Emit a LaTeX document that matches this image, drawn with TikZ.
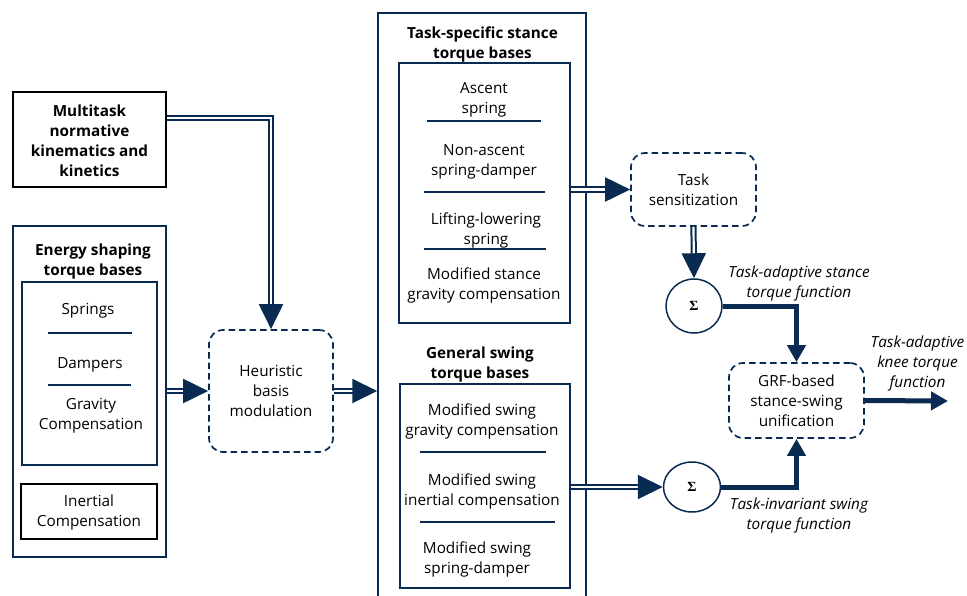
\documentclass[tikz,border=0pt]{standalone}
\usepackage{fontspec}
\setmainfont{Open Sans}
\newfontfamily\sigmafont{Liberation Serif}
\usepackage{xcolor}
\definecolor{Navy}{RGB}{9,43,82}
\usepackage{tikz}
\usetikzlibrary{shapes.geometric}
\usetikzlibrary{arrows.meta}
\newcommand{\Txt}{\fontsize{15.3}{20}\selectfont}
\tikzstyle{NavyBox}=[draw=Navy,line width=1.5pt,inner sep=0pt]
\tikzstyle{BlackBox}=[draw=black,line width=2pt,inner sep=0pt]
\tikzstyle{DashBox}=[draw=Navy,line width=1.7pt,dash pattern=on 6.5pt off 4pt,
rounded corners=14pt,inner sep=0pt,align=center,font=\Txt]
\tikzstyle{Item}=[inner sep=0pt,align=center,font=\Txt]
\tikzstyle{Title}=[inner sep=0pt,align=center,font=\Txt\bfseries]
\tikzstyle{Label}=[inner sep=0pt,align=center,font=\Txt\itshape]
\tikzstyle{Sum}=[ellipse,draw=Navy,line width=1.5pt,inner sep=0pt,
font=\sigmafont\bfseries\fontsize{14}{14}\selectfont]
\tikzstyle{Sep}=[draw=Navy,line width=1.2pt]
\tikzstyle{DoubleArrow}=[draw=Navy,line width=2pt,double=white,
double distance=2.2pt,-{Triangle[length=25pt,width=24pt]}]
\tikzstyle{ThickArrow}=[draw=Navy,line width=5pt,miter limit=10,
-{Triangle[length=17pt,width=18pt]}]

\begin{document}
\begin{tikzpicture}[x=1pt,y=-1pt]
    \useasboundingbox (0,0) rectangle (967,595);
    % left column
    \node[BlackBox,minimum width=153pt,minimum height=95pt](Multi)at(89.5,139.5){};
    \node[Title](MultiT)at(89.5,141){Multitask\\normative\\kinematics and\\kinetics};
    \node[NavyBox,minimum width=153pt,minimum height=331pt](Energy)at(89.5,391.5){};
    \node[Title](EnergyT)at(93,262){Energy shaping\\torque bases};
    \node[NavyBox,minimum width=135pt,minimum height=183pt](EnergyIn)at(89.5,373.5){};
    \node[Item](Springs)at(88,311){Springs};
    \node[Item](Dampers)at(90,365){Dampers};
    \node[Item](Gravity)at(91,416){Gravity\\Compensation};
    \draw[Sep](48,333)--(132,333);
    \draw[Sep](48,385)--(131,385);
    \node[BlackBox,minimum width=136pt,minimum height=55pt](Inertial)at(89,511.5){};
    \node[Item](InertialT)at(89,513){Inertial\\Compensation};
    % modulation
    \node[DashBox,minimum width=124pt,minimum height=122pt](Heur)at(271,391){Heuristic\\basis\\modulation};
    % torque bases
    \node[NavyBox,minimum width=208pt,minimum height=597pt](Bases)at(482,311.5){};
    \node[Title](StanceT)at(482.5,44){Task-specific stance\\torque bases};
    \node[NavyBox,minimum width=171pt,minimum height=260pt](StanceIn)at(484.5,193){};
    \node[Item](Ascent)at(484,100){Ascent\\spring};
    \node[Item](NonAscent)at(484,162){Non-ascent\\spring-damper};
    \node[Item](Lifting)at(486,230){Lifting-lowering\\spring};
    \node[Item](StanceGrav)at(484,285){Modified stance\\gravity compensation};
    \draw[Sep](427,121)--(541,121);
    \draw[Sep](424,192)--(545,192);
    \draw[Sep](424,249)--(546,249);
    \node[Title](SwingT)at(480,365){General swing\\torque bases};
    \node[NavyBox,minimum width=170pt,minimum height=204pt](SwingIn)at(485,486){};
    \node[Item](SwingGrav)at(482,421.5){Modified swing\\gravity compensation};
    \node[Item](SwingIner)at(482,491.5){Modified swing\\inertial compensation};
    \node[Item](SwingSpring)at(477,559.5){Modified swing\\spring-damper};
    \draw[Sep](420,452)--(546,452);
    \draw[Sep](420,522)--(555,522);
    % right part
    \node[DashBox,minimum width=125pt,minimum height=73pt](TaskSens)at(693.5,189.5){Task\\sensitization};
    \node[Sum,minimum width=56pt,minimum height=54pt](Sum1)at(694,306){Σ};
    \node[Sum,minimum width=57pt,minimum height=50pt](Sum2)at(692,487){Σ};
    \node[DashBox,minimum width=135pt,minimum height=75pt](GRF)at(796.5,400.5){GRF-based\\stance-swing\\unification};
    \node[Label](StanceL)at(799,284){Task-adaptive stance\\torque function};
    \node[Label](SwingL)at(799,515.5){Task-invariant swing\\torque function};
    \node[Label](KneeL)at(917.5,363.5){Task-adaptive\\knee torque\\function};
    \coordinate(Out)at(948,401);
    % connectors
    \draw[DoubleArrow]([yshift=21.5pt]Multi.east)-|(Heur.north);
    \draw[DoubleArrow](Energy.east|-Heur.west)--(Heur.west);
    \draw[DoubleArrow](Heur.east)--(Heur.east-|Bases.west);
    \draw[DoubleArrow](StanceIn.east|-TaskSens.west)--(TaskSens.west);
    \draw[DoubleArrow](TaskSens.south)--(Sum1.north);
    \draw[DoubleArrow](SwingIn.east|-Sum2.west)--(Sum2.west);
    \draw[ThickArrow](Sum1.east)-|(GRF.north);
    \draw[ThickArrow](Sum2.east)-|(GRF.south);
    \draw[ThickArrow](GRF.east)--(Out);
\end{tikzpicture}
\end{document}
